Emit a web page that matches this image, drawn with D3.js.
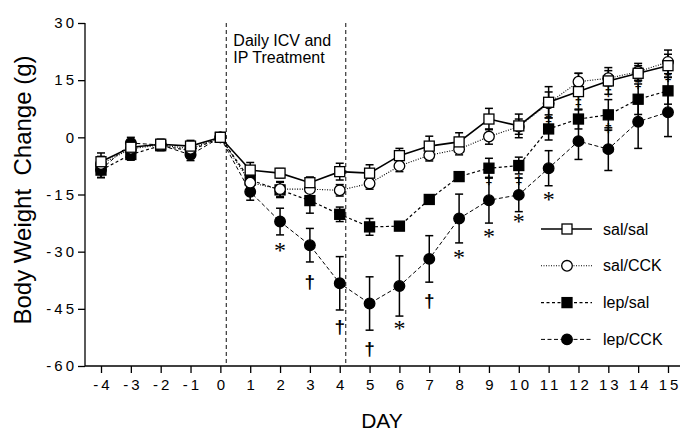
<!DOCTYPE html>
<html>
<head>
<meta charset="utf-8">
<script src="https://cdn.jsdelivr.net/npm/d3@7"></script>
<style>
    body { margin: 0; background: #fff; }
    #graph { width: 680px; height: 435px; }
    text { font-family: "Liberation Sans", Arial, sans-serif; fill: #000; }
</style>
</head>
<body>
<div id="graph"></div>
<script>
"use strict";

var days = [-4, -3, -2, -1, 0, 1, 2, 3, 4, 5, 6, 7, 8, 9, 10, 11, 12, 13, 14, 15];
var yTicks = [30, 15, 0, -15, -30, -45, -60];

var salSal = [-6.4, -2.6, -1.8, -2.3, 0, -8.6, -9.4, -11.9, -9.0, -9.4, -4.8, -2.3, -1.2, 4.8, 3.0, 9.2, 12.0, 14.8, 16.8, 18.8];
var salSalSem = [2.3, 1.2, 1.2, 1.5, 0, 2, 1.2, 1.5, 2.2, 2.2, 1.9, 2.6, 2.4, 2.8, 3.1, 4.1, 4.8, 3.5, 2, 3];

var salCck = [-7, -3, -2, -3, 0, -11.9, -13.6, -13.6, -13.9, -12.1, -7.5, -4.7, -3.1, 0.2, 2.8, 8.9, 14.6, 15.5, 17.2, 19.8];
var salCckSem = [2, 1, 1, 1.2, 0, 1.5, 2, 1.8, 1.5, 1.5, 1.5, 1.5, 1.5, 2, 2, 3, 2.2, 2, 2.2, 3.1];

var lepSal = [-8.6, -4.5, -2.2, -3.5, 0, -11.2, -13.8, -16.6, -20.2, -23.5, -23.3, -16.3, -10.3, -8.1, -7.4, 2.2, 4.8, 5.9, 10.0, 12.2];
var lepSalSem = [2, 1.5, 1.2, 1.5, 0, 2, 2, 3.3, 1.9, 2.2, 1, 1, 1, 2.6, 2.2, 2.9, 2.6, 4, 4, 3.5];

var lepCck = [-8.5, -1.5, -2, -4.6, 0, -14.3, -22.1, -28.3, -38.3, -43.6, -39.0, -31.9, -21.3, -16.5, -15.1, -8.1, -1.0, -3.1, 4.1, 6.6];
var lepCckSem = [2, 1.5, 1.5, 1.5, 0, 2.2, 3.5, 4.4, 7, 7, 7.9, 6.1, 6.4, 6, 4.4, 4.6, 4.8, 5.6, 7, 6.4];

// significance marks: [day, value, symbol]
var marks = [
    [2, -28.5, "*"], [3, -38.2, "\u2020"], [4, -50.0, "\u2020"], [5, -55.8, "\u2020"],
    [6, -49.0, "*"], [7, -43.2, "\u2020"], [8, -30.4, "*"], [9, -24.8, "*"],
    [10, -20.9, "*"], [11, -15.0, "*"],
    [9, -11.2, "\u2021"], [10, -11.2, "\u2021"], [11, 4.8, "\u2021"], [12, 9.3, "\u2021"],
    [13, 11.9, "\u2021"], [13, 2.4, "\u2021"], [14, 14.0, "\u2021"], [15, 15.8, "\u2021"]
];

var treatment = [0.2, 4.2];
var treatmentLabel = ["Daily ICV and", "IP Treatment"];

var series = [
    {name: "sal/sal", values: salSal, sem: salSalSem, shape: "square", fill: "#fff", dash: null, width: 1.6},
    {name: "sal/CCK", values: salCck, sem: salCckSem, shape: "circle", fill: "#fff", dash: "1,1.5", width: 1.1},
    {name: "lep/sal", values: lepSal, sem: lepSalSem, shape: "square", fill: "#000", dash: "3,2.5", width: 1.2},
    {name: "lep/CCK", values: lepCck, sem: lepCckSem, shape: "circle", fill: "#000", dash: "4,2.5", width: 1}
];

var width = 680, height = 435;
var svg = d3.select("#graph").append("svg")
    .attr("width", width)
    .attr("height", height);

var x = d3.scaleLinear().domain([-4, 15]).range([101, 668]);
var y = d3.scaleLinear().domain([-60, 30]).range([366, 23]);
var axisX = 85;

function plain(d) {
    return String(d);
}

// y axis
var yAxis = svg.append("g")
    .attr("transform", "translate(" + axisX + ",0)")
    .call(d3.axisLeft(y).tickValues(yTicks).tickSize(7).tickPadding(4).tickFormat(plain));
yAxis.select(".domain").attr("d", "M0," + y(30) + "V" + y(-60)).attr("stroke-width", 1.3);
yAxis.selectAll(".tick line").attr("stroke-width", 1.3);
yAxis.selectAll(".tick text")
    .style("font-size", "15px")
    .style("letter-spacing", "3px")
    .attr("dx", "3px");

// x axis
var xAxis = svg.append("g")
    .attr("transform", "translate(0," + y(-60) + ")")
    .call(d3.axisBottom(x).tickValues(days).tickSize(7).tickPadding(6).tickFormat(plain));
xAxis.select(".domain").attr("d", "M" + axisX + ",0H" + width).attr("stroke-width", 1.3);
xAxis.selectAll(".tick line").attr("stroke-width", 1.3);
xAxis.selectAll(".tick text")
    .style("font-size", "15px")
    .style("letter-spacing", "3px")
    .attr("dx", "1.5px");
xAxis.selectAll("text").attr("font-family", null);
yAxis.selectAll("text").attr("font-family", null);

// axis titles
svg.append("text")
    .attr("transform", "translate(31,190) rotate(-90)")
    .attr("text-anchor", "middle")
    .style("font-size", "24px")
    .style("white-space", "pre")
    .text("Body Weight  Change (g)");

svg.append("text")
    .attr("x", 382)
    .attr("y", 428)
    .attr("text-anchor", "middle")
    .style("font-size", "21px")
    .text("DAY");

// treatment window
svg.append("g").selectAll("line")
    .data(treatment)
    .enter().append("line")
    .attr("x1", function (d) { return x(d); })
    .attr("x2", function (d) { return x(d); })
    .attr("y1", y(30))
    .attr("y2", y(-60))
    .attr("stroke", "#444")
    .attr("stroke-width", 1.3)
    .attr("stroke-dasharray", "4,3");

svg.append("g").selectAll("text")
    .data(treatmentLabel)
    .enter().append("text")
    .attr("x", x(treatment[0]) + 7)
    .attr("y", function (d, i) { return 46 + i * 17; })
    .style("font-size", "16px")
    .text(function (d) { return d; });

var line = d3.line()
    .x(function (d) { return x(d.day); })
    .y(function (d) { return y(d.value); });

function points(s) {
    return days.map(function (d, i) {
        return {day: d, value: s.values[i], sem: s.sem[i]};
    });
}

function drawMarker(sel, s) {
    if (s.shape === "square") {
        sel.append("rect")
            .attr("x", -5).attr("y", -5)
            .attr("width", 10).attr("height", 10)
            .attr("fill", s.fill)
            .attr("stroke", "#000")
            .attr("stroke-width", 1.3);
    } else {
        sel.append("circle")
            .attr("r", 5.3)
            .attr("fill", s.fill)
            .attr("stroke", "#000")
            .attr("stroke-width", 1.3);
    }
}

// lines
svg.append("g").attr("class", "lines")
    .selectAll("path")
    .data(series)
    .enter().append("path")
    .attr("d", function (s) { return line(points(s)); })
    .attr("fill", "none")
    .attr("stroke", "#000")
    .attr("stroke-width", function (s) { return s.width; })
    .attr("stroke-dasharray", function (s) { return s.dash; });

// error bars
series.forEach(function (s) {
    var bars = svg.append("g").attr("class", "errors")
        .selectAll("g")
        .data(points(s).filter(function (p) { return p.sem > 0; }))
        .enter().append("g")
        .attr("transform", function (p) { return "translate(" + x(p.day) + ",0)"; });
    bars.append("line")
        .attr("y1", function (p) { return y(p.value + p.sem); })
        .attr("y2", function (p) { return y(p.value - p.sem); })
        .attr("stroke", "#000")
        .attr("stroke-width", 1.5);
    [1, -1].forEach(function (sign) {
        bars.append("line")
            .attr("x1", -4).attr("x2", 4)
            .attr("y1", function (p) { return y(p.value + sign * p.sem); })
            .attr("y2", function (p) { return y(p.value + sign * p.sem); })
            .attr("stroke", "#000")
            .attr("stroke-width", 1.5);
    });
});

// markers, drawn last series first so the open symbols stay on top
series.slice().reverse().forEach(function (s) {
    svg.append("g").attr("class", "markers")
        .selectAll("g")
        .data(points(s))
        .enter().append("g")
        .attr("transform", function (p) { return "translate(" + x(p.day) + "," + y(p.value) + ")"; })
        .each(function () { drawMarker(d3.select(this), s); });
});

// significance symbols
svg.append("g").selectAll("text")
    .data(marks)
    .enter().append("text")
    .attr("x", function (d) { return x(d[0]); })
    .attr("y", function (d) { return y(d[1]); })
    .attr("text-anchor", "middle")
    .attr("dy", function (d) { return d[2] === "*" ? "0.5em" : "0.28em"; })
    .style("font-family", function (d) { return d[2] === "*" ? "'Liberation Serif', serif" : null; })
    .style("font-weight", function (d) { return d[2] === "*" ? null : "bold"; })
    .style("font-size", function (d) { return d[2] === "*" ? "24px" : d[2] === "\u2020" ? "19px" : "13px"; })
    .text(function (d) { return d[2]; });

// legend
var legend = svg.append("g")
    .selectAll("g")
    .data(series)
    .enter().append("g")
    .attr("transform", function (s, i) { return "translate(541," + (229 + i * 36.8) + ")"; });

legend.append("line")
    .attr("x1", 0).attr("x2", 51)
    .attr("stroke", "#000")
    .attr("stroke-width", function (s) { return s.width; })
    .attr("stroke-dasharray", function (s) { return s.dash; });

legend.append("g")
    .attr("transform", "translate(26,0)")
    .each(function (s) { drawMarker(d3.select(this), s); });

legend.append("text")
    .attr("x", 62)
    .attr("dy", "0.35em")
    .style("font-size", "16px")
    .text(function (s) { return s.name; });
</script>
</body>
</html>
